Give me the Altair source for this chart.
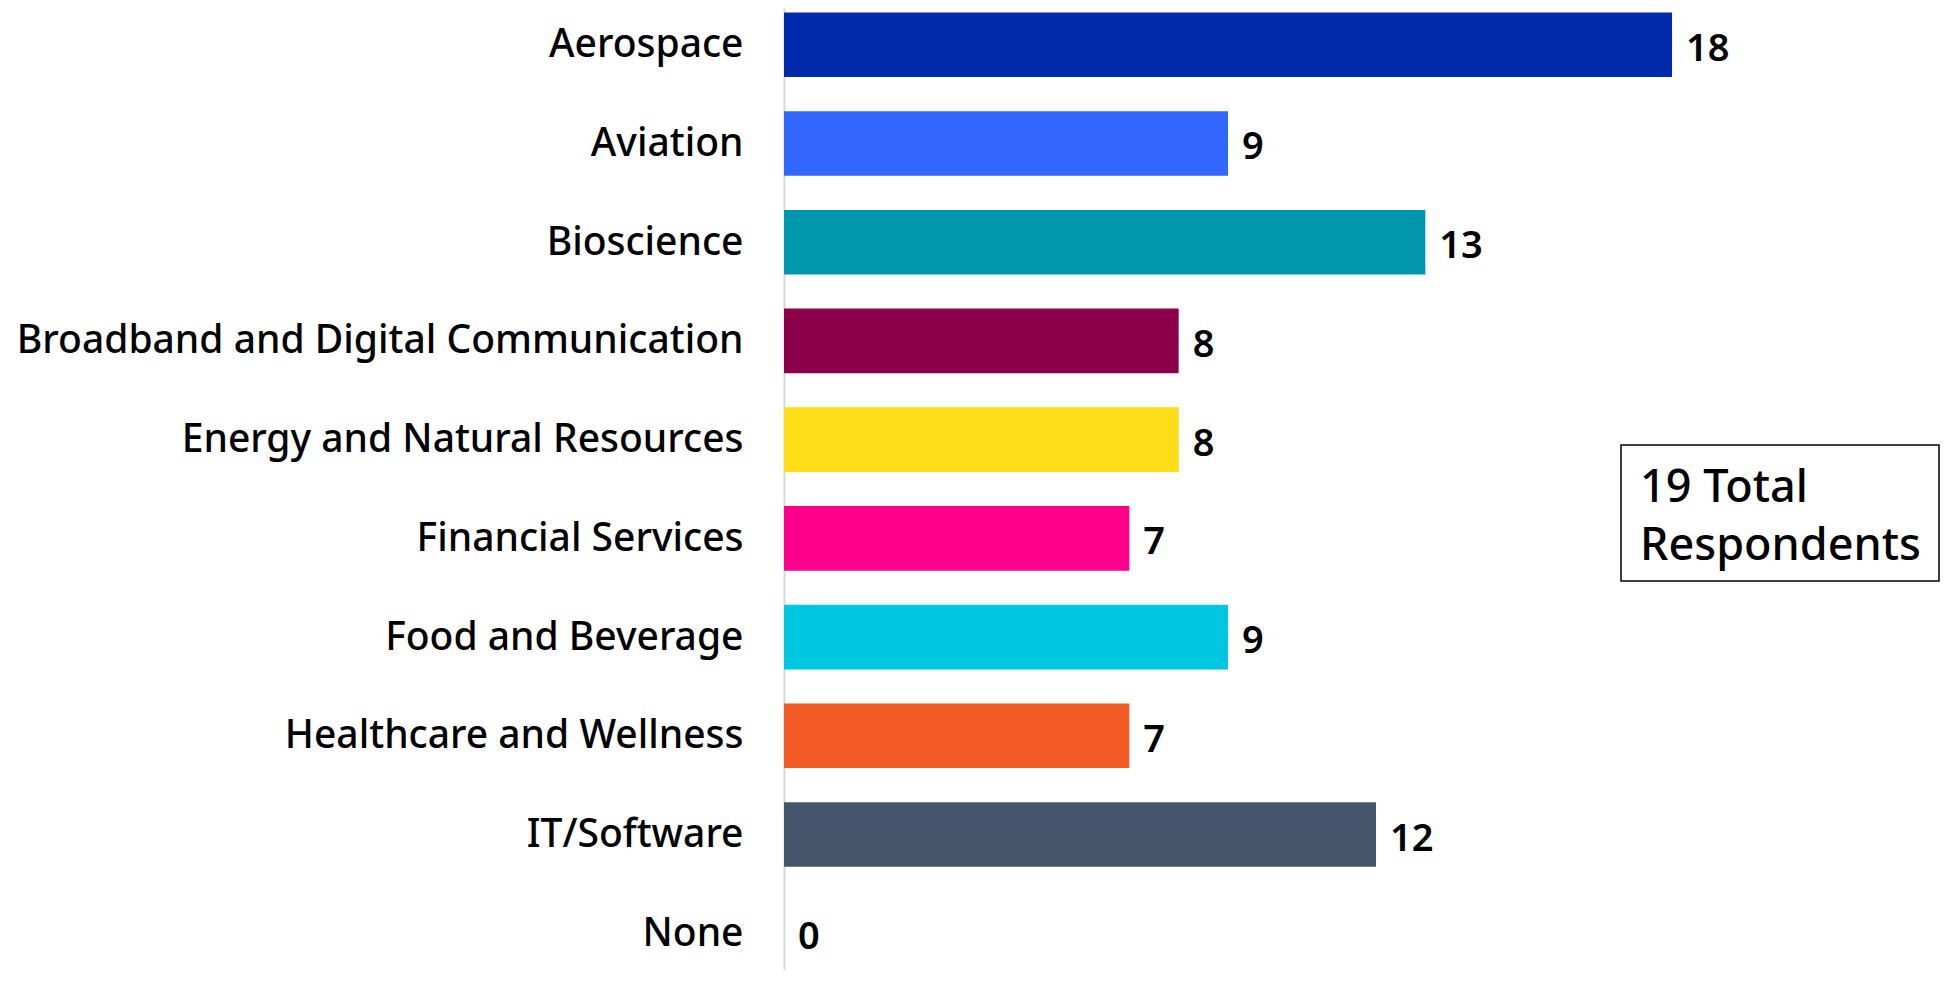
import altair as alt
import pandas as pd

categories = ["Aerospace", "Aviation", "Bioscience", "Broadband and Digital Communication",
              "Energy and Natural Resources", "Financial Services", "Food and Beverage",
              "Healthcare and Wellness", "IT/Software", "None"]
values = [18, 9, 13, 8, 8, 7, 9, 7, 12, 0]
colors = ["#002AAC", "#3366FF", "#0097AC", "#8B0048", "#FDDC18", "#FF008C",
          "#00C7E0", "#F15A24", "#44546A", "#FFFFFF"]
note_lines = ["19 Total", "Respondents"]

df = pd.DataFrame({"category": categories, "value": values, "color": colors})

FONT = "Noto Sans"

y = alt.Y("category:N", sort=categories, title=None,
          scale=alt.Scale(paddingInner=0.345, paddingOuter=0.045),
          axis=alt.Axis(ticks=False, labelFontSize=39, labelFont=FONT, labelFontWeight=500,
                        labelColor="black", labelPadding=41, domainColor="#D9D9D9",
                        domainWidth=2, labelLimit=800, labelOffset=0.5))
x = alt.X("value:Q", scale=alt.Scale(domain=[0, 23.31], nice=False), axis=None)

bars = alt.Chart(df).mark_bar().encode(
    x=x, y=y, color=alt.Color("color:N", scale=None, legend=None))

labels = alt.Chart(df).mark_text(align="left", baseline="middle", dx=14, dy=5, fontSize=38,
                                 font=FONT, fontWeight=600, color="black").encode(
    x=x, y=alt.Y("category:N", sort=categories), text="value:Q")

box = alt.Chart(pd.DataFrame({"a": [0]})).mark_rect(
    fill="white", stroke="black", strokeWidth=1.5).encode(
    x=alt.value(837), x2=alt.value(1155), y=alt.value(437), y2=alt.value(573))

note = alt.Chart(pd.DataFrame({"t": [note_lines]})).mark_text(
    align="left", baseline="middle", fontSize=45, font=FONT, fontWeight=500, lineHeight=58,
    color="black").encode(x=alt.value(856), y=alt.value(480), text="t")

chart = alt.layer(bars, labels, box, note).properties(
    width=1150, height=962,
    autosize=alt.AutoSizeParams(type="none"),
    padding={"left": 776, "top": 0, "right": 6, "bottom": 0},
).configure_view(stroke=None).configure_axis(grid=False)

chart.save("out.html", embed_options={"renderer": "svg", "actions": False})
